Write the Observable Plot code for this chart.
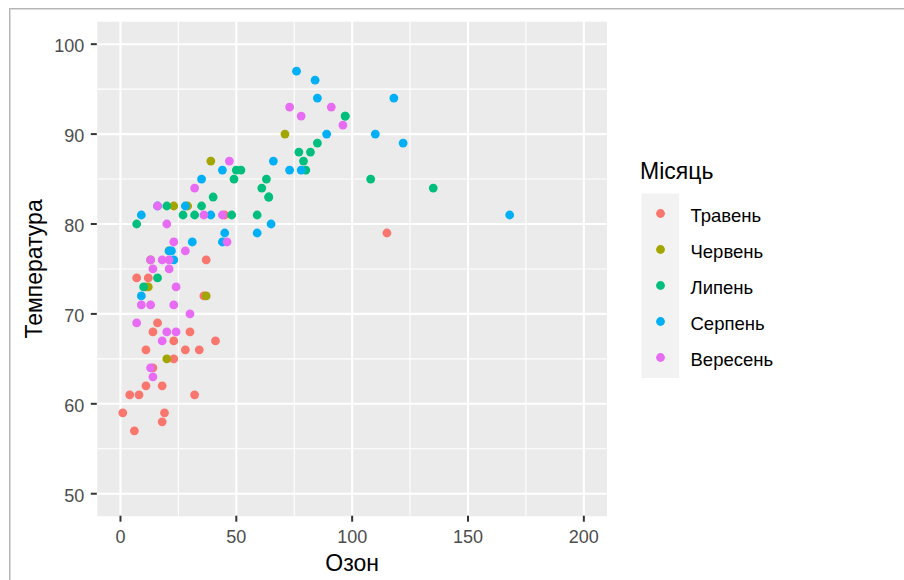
<!DOCTYPE html>
<html><head><meta charset="utf-8">
<script src="https://cdn.jsdelivr.net/npm/d3@7"></script>
<script src="https://cdn.jsdelivr.net/npm/@observablehq/plot@0.6"></script>
<style>
body{margin:0;background:#fff;font-family:"Liberation Sans",Arial,sans-serif;}
#wrap{position:relative;width:904px;height:580px;overflow:hidden;background:#fff;}
#border{position:absolute;left:9px;top:8px;width:920px;height:600px;border:1px solid #b4b4b4;box-shadow:inset 1px 1px 0 #dcdcdc;}
#chart{position:absolute;left:0;top:0;}
#legtitle{position:absolute;left:640px;top:160px;font-size:23px;line-height:23px;color:#000;}
#legend{position:absolute;left:641px;top:193px;}
</style></head><body>
<div id="wrap"><div id="border"></div><div id="chart"></div><div id="legtitle">Місяць</div><div id="legend"></div></div>
<script>
const months = ["Травень", "Червень", "Липень", "Серпень", "Вересень"];
const colors = ["#F8766D", "#A3A500", "#00BF7D", "#00B0F6", "#E76BF3"];
const xTicks = [0, 50, 100, 150, 200];
const yTicks = [50, 60, 70, 80, 90, 100];
const xMinor = [25, 75, 125, 175];
const yMinor = [55, 65, 75, 85, 95];
const xTitle = "Озон";
const yTitle = "Температура";

// Month index (0 = Травень ... 4 = Вересень), ozone, temperature
const monthIdx = [
  0,0,0,0,0,0,0,0,0,0,0,0,0,0,0,0,0,0,0,0,0,0,0,0,0,0,
  1,1,1,1,1,1,1,1,1,
  2,2,2,2,2,2,2,2,2,2,2,2,2,2,2,2,2,2,2,2,2,2,2,2,2,2,
  3,3,3,3,3,3,3,3,3,3,3,3,3,3,3,3,3,3,3,3,3,3,3,3,3,3,
  4,4,4,4,4,4,4,4,4,4,4,4,4,4,4,4,4,4,4,4,4,4,4,4,4,4,4,4,4
];
const ozone = [
  41,36,12,18,28,23,19,8,7,16,11,14,18,14,34,6,30,11,1,11,4,32,23,45,115,37,
  29,71,39,23,21,37,20,12,13,
  135,49,32,64,40,77,97,97,85,10,27,7,48,35,61,79,63,16,80,108,20,52,82,50,64,59,
  39,9,16,78,35,66,122,89,110,44,28,65,22,59,23,31,44,21,9,45,168,73,76,118,84,85,
  96,78,73,91,47,32,20,23,21,24,44,21,28,9,13,46,18,13,24,16,13,23,36,7,14,30,14,18,20
];
const temp = [
  67,72,74,62,66,65,59,61,74,69,66,68,58,64,66,57,68,62,59,73,61,61,67,81,79,76,
  82,90,87,82,77,72,65,73,76,
  84,85,81,83,83,88,92,92,89,73,81,80,81,82,84,87,85,74,86,85,82,86,88,86,83,81,
  81,81,82,86,85,87,89,90,90,86,82,80,77,79,76,78,78,77,72,79,81,86,97,94,96,94,
  91,92,93,93,87,84,80,78,75,73,81,76,77,71,71,78,67,76,68,82,64,71,81,69,63,70,75,76,68
];

const data = ozone.map((o, i) => ({ozone: o, temp: temp[i], month: months[monthIdx[i]]}));

const font = "Liberation Sans, Arial, sans-serif";

const chart = Plot.plot({
  width: 904,
  height: 580,
  marginLeft: 96.8,
  marginRight: 297.5,
  marginTop: 21.2,
  marginBottom: 64.3,
  style: {fontFamily: font, fontSize: "17.6px", color: "#4D4D4D", background: "transparent", overflow: "visible"},
  x: {domain: [-10, 210], label: null},
  y: {domain: [47.5, 102.5], label: null},
  color: {domain: months, range: colors},
  marks: [
    Plot.frame({fill: "#EBEBEB", stroke: null}),
    Plot.ruleX(xMinor, {stroke: "white", strokeWidth: 1.1}),
    Plot.ruleY(yMinor, {stroke: "white", strokeWidth: 1.1}),
    Plot.ruleX(xTicks, {stroke: "white", strokeWidth: 2.1}),
    Plot.ruleY(yTicks, {stroke: "white", strokeWidth: 2.1}),
    Plot.axisX(xTicks, {tickSize: 6, tickPadding: 8, stroke: "#333333", fill: "#4D4D4D", strokeWidth: 2, label: null, fontSize: 18}),
    Plot.axisY(yTicks, {tickSize: 6, stroke: "#333333", strokeWidth: 2, label: null, tickFormat: () => ""}),
    Plot.axisY(yTicks, {tickSize: 6, tickPadding: 7, strokeOpacity: 0, fill: "#4D4D4D", label: null, fontSize: 18, dy: 2.5}),
    Plot.dot(data, {x: "ozone", y: "temp", fill: "month", r: 4.4, stroke: null}),
    Plot.text([xTitle], {text: d => d, frameAnchor: "bottom", lineAnchor: "middle", textAnchor: "middle", dy: 47.6, fontSize: 23, fill: "black"}),
    Plot.text([yTitle], {text: d => d, frameAnchor: "left", lineAnchor: "middle", textAnchor: "middle", rotate: -90, dx: -62.8, fontSize: 23, fill: "black"})
  ]
});
document.getElementById("chart").appendChild(chart);

const legend = Plot.plot({
  width: 220,
  height: 184.5,
  margin: 0,
  style: {fontFamily: font, fontSize: "18.5px", color: "black", background: "transparent", overflow: "visible"},
  x: {domain: [0, 1], axis: null},
  y: {type: "band", domain: months, padding: 0, axis: null},
  color: {domain: months, range: colors},
  marks: [
    Plot.frame({fill: "#F2F2F2", stroke: null, insetRight: 220 - 37.7}),
    Plot.dot(months, {y: d => d, fill: d => d, frameAnchor: "left", dx: 19, r: 4.4}),
    Plot.text(months, {y: d => d, text: d => d, frameAnchor: "left", dx: 49, dy: 3, textAnchor: "start", fill: "black", fontSize: 18.5})
  ]
});
document.getElementById("legend").appendChild(legend);
</script>
</body></html>
